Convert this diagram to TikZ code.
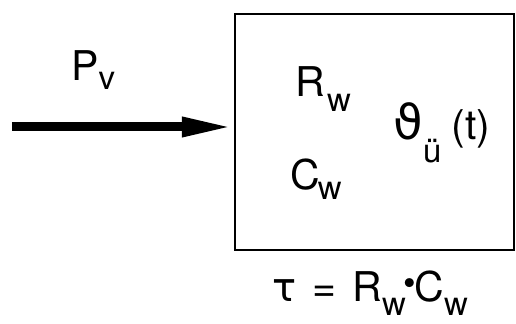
\documentclass[tikz,border=0pt]{standalone}
\usepackage{fontspec}
\setmainfont{TeX Gyre Heros}
\newfontfamily\grk{DejaVu Sans}
\usepackage{tikz}
\usetikzlibrary{arrows.meta, positioning}

\newcommand{\idx}[2][7.5pt]{\raisebox{-#1}{\fontsize{16.5}{18}\selectfont #2}}

\begin{document}
\begin{tikzpicture}[
            x=0.5pt, y=-0.5pt,
            every node/.style={font=\fontsize{20.5}{24}\selectfont},
            label/.style={inner sep=0pt, anchor=base west},
            block/.style={rectangle, draw, line width=1pt, minimum width=139.5pt, minimum height=118pt},
            arrow/.style={-{Triangle[length=26pt, width=9pt]}, line width=4.5pt}
        ]
            \useasboundingbox (0,0) rectangle (516,324);

            \node[block] (box) at (374.5,132) {};
            \coordinate (in) at (12,127);

            \node[label] (pv)    at (71,81)   {P\idx[4.5pt]{v}};
            \node[label] (rw)    at (295,97)  {R\kern1pt\idx{w}};
            \node[label] (cw)    at (290,190) {C\kern-1pt\idx[5pt]{w}};
            \node[label] (theta) at (393,140) {{\grk\fontsize{24}{26}\selectfont ϑ}\kern0pt\idx[11.5pt]{ü}\kern5pt(t)};
            \node[label] (tau)   at (272,302) {{\grk\fontsize{20}{24}\selectfont τ}\kern8pt=\kern8pt R\idx[7pt]{w}\kern-1pt\raisebox{3pt}{\fontsize{18}{18}\selectfont\textbullet}\kern-1ptC\idx[7pt]{w}};

            \draw[arrow] (in) -- (in -| box.west);
        \end{tikzpicture}
\end{document}
